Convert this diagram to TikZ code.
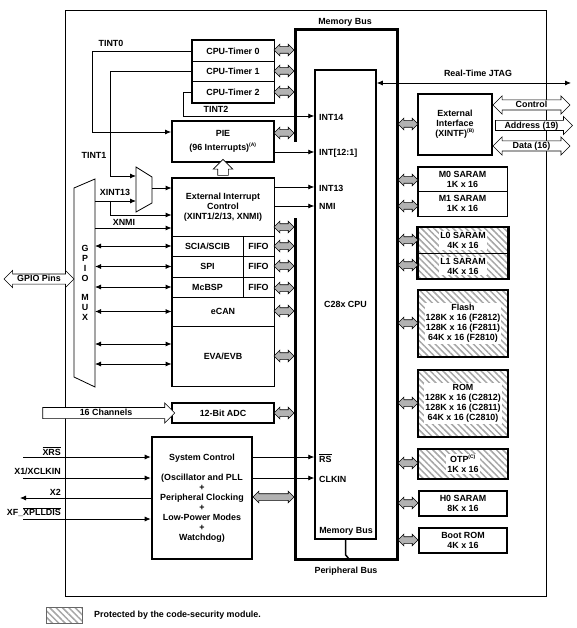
\documentclass[tikz,border=0pt]{standalone}
\usepackage{fontspec}
\setmainfont{Liberation Sans}
\usetikzlibrary{arrows.meta,shapes.arrows,patterns.meta}
\newcommand{\noteref}[1]{\textsuperscript{\fontsize{5}{5}\selectfont(#1)}}

\begin{document}
\begin{tikzpicture}[x=1pt,y=-1pt,line join=miter,
  every node/.style={font=\fontsize{8.9}{10}\selectfont\bfseries,align=center,inner sep=0pt},
  blk/.style={draw,line width=0.8pt},
  outline/.style={draw,line width=1.8pt},
  sig/.style={line width=0.8pt,-{Latex[length=6pt,width=5pt]}},
  bisig/.style={line width=0.8pt,{Latex[length=6pt,width=5pt]}-{Latex[length=6pt,width=5pt]}},
  busarrow/.style={double arrow,draw,fill=black!30,line width=0.6pt,
                   inner xsep=0pt,inner ysep=3pt,minimum height=20pt,
                   double arrow head extend=2.5pt},
  hollow/.style={draw,fill=white,line width=0.6pt,inner xsep=2pt,inner ysep=1pt,
                 text height=6.5pt,text depth=1pt},
  hatched/.style={pattern={Lines[angle=-45,distance=4.5pt,line width=1.5pt]},
                  pattern color=black!35},
  memtxt/.style={fill=white,inner sep=1pt}]
\path[use as bounding box] (0,0) rectangle (576,628);
\draw[line width=0.9pt] (65,10) rectangle (546,596);

% memory / peripheral bus
\draw[line width=3pt] (295,142) -- (295,30) -- (397,30) -- (397,559) -- (295,559) -- (295,218);
\node (mbtop) at (345,22) {Memory Bus};
\node (pbus) at (346,571) {Peripheral Bus};

% CPU core
\node[draw,line width=1.5pt,minimum width=61pt,minimum height=469pt] (cpu) at (345.5,304.5) {C28x CPU};
\node[anchor=west] (int14) at (319,117) {INT14};
\node[anchor=west] (int121) at (319,153) {INT[12:1]};
\node[anchor=west] (int13) at (319,188) {INT13};
\node[anchor=west] (nmi) at (319,206) {NMI};
\node[anchor=west] (rs) at (319,458) {$\overline{\hbox{RS}}$};
\node[anchor=west] (clkin) at (319,479) {CLKIN};
\node (mbbot) at (346,531) {Memory Bus};
\draw[line width=1.5pt] (cpu.south) -- ++(0,15) -- (349,559);

% timers and PIE
\node[blk,minimum width=82pt,minimum height=20.5pt] (tmr0) at (233,51) {CPU-Timer 0};
\node[blk,minimum width=82pt,minimum height=20.5pt] (tmr1) at (233,71.5) {CPU-Timer 1};
\node[blk,minimum width=82pt,minimum height=20.5pt] (tmr2) at (233,92) {CPU-Timer 2};
\draw[outline] (tmr0.north west) rectangle (tmr2.south east);
\node[outline,minimum width=102pt,minimum height=41pt] (pie) at (223,141.5) {PIE\\[4pt](96 Interrupts)\noteref{A}};

% peripherals
\node[blk,minimum width=102pt,minimum height=58pt] (xint) at (223,207) {External Interrupt\\Control\\(XINT1/2/13, XNMI)};
\node[blk,minimum width=71pt,minimum height=20pt] (sci) at (207.5,246) {SCIA/SCIB};
\node[blk,minimum width=31pt,minimum height=20pt] (scififo) at (258.5,246) {FIFO};
\node[blk,minimum width=71pt,minimum height=21pt] (spi) at (207.5,266.5) {SPI};
\node[blk,minimum width=31pt,minimum height=21pt] (spififo) at (258.5,266.5) {FIFO};
\node[blk,minimum width=71pt,minimum height=20pt] (mcbsp) at (207.5,287) {McBSP};
\node[blk,minimum width=31pt,minimum height=20pt] (mcbspfifo) at (258.5,287) {FIFO};
\node[blk,minimum width=102pt,minimum height=29pt] (ecan) at (223,311.5) {eCAN};
\node[blk,minimum width=102pt,minimum height=60pt] (eva) at (223,356) {EVA/EVB};
\draw[outline] (xint.north west) rectangle (eva.south east);
\node[hollow,single arrow,shape border rotate=90,text height=0pt,text depth=0pt,
      inner sep=5pt,minimum height=16pt,single arrow head extend=4.5pt] (irqup) at (223,170) {};
\node[outline,minimum width=102pt,minimum height=20pt] (adc) at (223,413) {12-Bit ADC};
\node[hollow,single arrow,minimum height=132pt,inner ysep=1.5pt,single arrow head extend=4.5pt] (chan) at (106,413) {16 Channels};
\node[draw,line width=2.6pt,minimum width=100pt,minimum height=122pt] (sysc) at (202,498)
  {System Control\\[10pt](Oscillator and PLL\\+\\Peripheral Clocking\\+\\Low-Power Modes\\+\\Watchdog)};

% GPIO mux
\coordinate (gmnw) at (74,188);
\coordinate (gmne) at (95,179);
\coordinate (gmse) at (95,387);
\coordinate (gmsw) at (74,377);
\draw[line width=0.8pt] (gmnw) -- (gmne) -- (gmse) -- (gmsw) -- cycle;
\node (gmux) at (85,282.5) {G\\P\\I\\O\\[9pt]M\\U\\X};
\node[hollow,double arrow,minimum height=70pt,double arrow head extend=3.5pt] (gpio) at (39,279) {GPIO Pins};

% XINT13 mux
\coordinate (smnw) at (136,167);
\coordinate (smne) at (152,177);
\coordinate (smse) at (152,203);
\coordinate (smsw) at (136,212);
\draw[line width=0.8pt] (smnw) -- (smne) -- (smse) -- (smsw) -- cycle;

% interrupt lines
\draw[sig] (tmr0.west) -| (92,132) -- (pie.west |- 0,132);
\node (tint0) at (111,43) {TINT0};
\draw[sig] (tmr1.west) -| (110,176) -- (smnw |- 0,176);
\node (tint1) at (94,155) {TINT1};
\draw[sig] (tmr2.west) -| (183,116) -- (cpu.west |- 0,116);
\node (tint2) at (216,109) {TINT2};
\draw[sig] (pie.east |- 0,152) -- (cpu.west |- 0,152);
\draw[sig] (xint.east |- 0,187) -- (cpu.west |- 0,187);
\draw[sig] (xint.east |- 0,206) -- (cpu.west |- 0,206);
\draw[sig] (smne |- 0,188) -- (xint.west |- 0,188);
\draw[sig] (gmne |- 0,201) -- (smnw |- 0,201);
\draw[sig] (110,201) |- (xint.west |- 0,215);
\node (xint13) at (115,192) {XINT13};
\draw[sig] (gmne |- 0,228) -- (xint.west |- 0,228);
\node (xnmi) at (124,222) {XNMI};
\foreach \y in {246,266.5,287,311.5,344,364}
  \draw[bisig] (gmne |- 0,\y) -- (xint.west |- 0,\y);

% clock and reset pins
\coordinate (xrsin) at (23,457);
\coordinate (x1in) at (23,478);
\coordinate (x2out) at (20,498);
\coordinate (xfin) at (23,519);
\draw[sig] (xrsin) -- (sysc.west |- xrsin);
\draw[sig] (x1in) -- (sysc.west |- x1in);
\draw[sig] (sysc.west |- x2out) -- (x2out);
\draw[sig] (xfin) -- (sysc.west |- xfin);
\node[anchor=east] (xrs) at (61,451) {$\overline{\hbox{XRS}}$};
\node[anchor=east] (x1) at (61,471) {X1/XCLKIN};
\node[anchor=east] (x2) at (61,492) {X2};
\node[anchor=east] (xf) at (61,512) {XF\_$\overline{\hbox{XPLLDIS}}$};
\draw[sig] (sysc.east |- 0,457) -- (cpu.west |- 0,457);
\draw[sig] (sysc.east |- 0,478) -- (cpu.west |- 0,478);

% external interface and JTAG
\node[outline,minimum width=74pt,minimum height=61pt] (xintf) at (455,124.5) {External\\Interface\\(XINTF)\noteref{B}};
\node[hollow,double arrow,minimum height=77pt,double arrow head extend=4pt] (ctl) at (531.5,105) {Control};
\node[hollow,single arrow,minimum height=77pt,single arrow head extend=4pt] (addr) at (531.5,125.5) {Address (19)};
\node[hollow,double arrow,minimum height=77pt,double arrow head extend=4pt] (data) at (531.5,146) {Data (16)};
\coordinate (jtagout) at (571,83);
\draw[bisig] (cpu.east |- jtagout) -- (jtagout);
\node (jtag) at (478,73) {Real-Time JTAG};

% memories
\node[blk,minimum width=89pt,minimum height=24pt] (m0) at (462.5,179) {M0 SARAM\\1K x 16};
\node[blk,minimum width=89pt,minimum height=25pt] (m1) at (462.5,203.5) {M1 SARAM\\1K x 16};
\draw[outline] (m0.north west) rectangle (m1.south east);
\node[blk,hatched,minimum width=90pt,minimum height=25.5pt] (l0) at (463,240.5) {};
\node[blk,hatched,minimum width=90pt,minimum height=25.5pt] (l1) at (463,266) {};
\draw[line width=2.6pt] (l0.north west) rectangle (l1.south east);
\node[memtxt] (l0txt) at (l0) {L0 SARAM\\4K x 16};
\node[memtxt] (l1txt) at (l1) {L1 SARAM\\4K x 16};
\node[draw,hatched,line width=2.2pt,minimum width=90pt,minimum height=67pt] (flash) at (463,323.5) {};
\node[memtxt] (flashtxt) at (flash) {Flash\\128K x 16 (F2812)\\128K x 16 (F2811)\\64K x 16 (F2810)};
\node[draw,hatched,line width=2.2pt,minimum width=90pt,minimum height=67pt] (rom) at (463,403.5) {};
\node[memtxt] (romtxt) at (rom) {ROM\\128K x 16 (C2812)\\128K x 16 (C2811)\\64K x 16 (C2810)};
\node[draw,hatched,line width=2.2pt,minimum width=90pt,minimum height=30pt] (otp) at (463,464) {};
\node[memtxt] (otptxt) at (otp) {OTP\noteref{C}\\1K x 16};
\node[outline,minimum width=88pt,minimum height=25pt] (h0) at (463,503.5) {H0 SARAM\\8K x 16};
\node[outline,minimum width=88pt,minimum height=25pt] (boot) at (463,540.5) {Boot ROM\\4K x 16};

% bus taps
\foreach \y in {50,71,92,133,227,246,266,288,311,356,413}
  \node[busarrow] (pa\y) at (284,\y) {};
\node[busarrow,minimum height=41pt] (psys) at (273.5,497) {};
\foreach \y in {124,180,206,240,265,323,403,463,503,540}
  \node[busarrow] (ma\y) at (408,\y) {};

% legend
\node[draw=black!60,hatched,line width=0.6pt,minimum width=36pt,minimum height=16pt] (key) at (64,615) {};
\node[anchor=west] (keytxt) at (94,615) {Protected by the code-security module.};
\end{tikzpicture}
\end{document}
